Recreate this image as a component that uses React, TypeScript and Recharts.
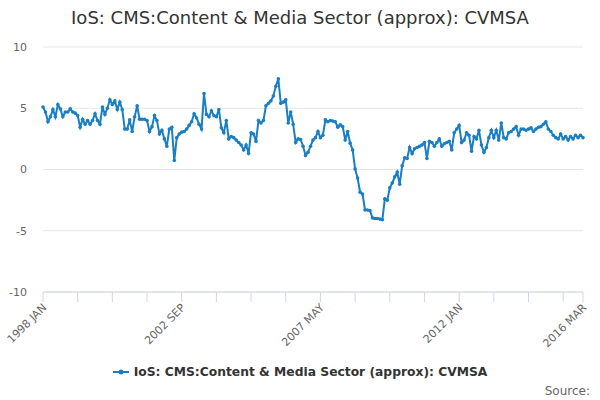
import { LineChart, Line, XAxis, YAxis, CartesianGrid } from 'recharts';

const MONTHS = ['JAN', 'FEB', 'MAR', 'APR', 'MAY', 'JUN', 'JUL', 'AUG', 'SEP', 'OCT', 'NOV', 'DEC'];
const START_YEAR = 1998;

// monthly values, %
const v1998 = [5.1, 4.7, 3.9, 4.3, 4.9, 4.3, 5.3, 4.95, 4.3, 4.7, 4.7, 4.95];
const v1999 = [4.7, 4.6, 4.4, 3.45, 4.1, 3.7, 4.0, 3.7, 4.0, 4.55, 4.0, 3.7];
const v2000 = [5.1, 4.5, 5.0, 5.7, 5.3, 5.6, 4.9, 5.5, 4.9, 3.3, 3.3, 4.05];
const v2001 = [3.1, 4.3, 5.2, 4.1, 4.1, 4.1, 4.0, 3.1, 3.5, 4.4, 4.0, 2.9];
const v2002 = [3.2, 2.5, 1.9, 3.3, 3.45, 0.73, 2.6, 2.9, 3.05, 3.1, 3.3, 3.6];
const v2003 = [3.9, 4.55, 4.2, 3.7, 3.3, 6.2, 4.5, 4.3, 4.8, 4.4, 4.3, 4.9];
const v2004 = [3.4, 3.0, 4.0, 2.5, 2.7, 2.6, 2.4, 2.2, 2.0, 1.6, 2.0, 1.3];
const v2005 = [3.0, 2.9, 2.3, 4.0, 3.8, 4.0, 5.2, 5.4, 5.6, 6.0, 6.8, 7.4];
const v2006 = [5.4, 5.5, 5.7, 3.8, 4.7, 3.7, 2.2, 2.5, 2.45, 1.9, 1.15, 1.4];
const v2007 = [1.9, 2.4, 2.6, 3.1, 2.6, 2.8, 4.05, 3.9, 4.0, 3.95, 3.9, 3.45];
const v2008 = [3.65, 3.5, 2.4, 3.1, 2.15, 1.6, 0.05, -0.7, -1.85, -2.0, -3.3, -3.3];
const v2009 = [-3.35, -3.95, -4.0, -4.0, -4.05, -4.1, -2.4, -2.5, -1.5, -1.1, -0.6, -0.2];
const v2010 = [-1.2, 0.3, 0.95, 0.9, 1.8, 1.3, 1.7, 1.8, 1.9, 2.0, 2.2, 0.9];
const v2011 = [2.3, 2.2, 1.9, 2.2, 2.5, 1.9, 2.1, 2.2, 2.3, 1.6, 3.0, 3.3];
const v2012 = [3.6, 2.2, 2.4, 3.0, 2.8, 1.5, 2.7, 2.5, 3.2, 2.0, 1.4, 1.8];
const v2013 = [2.6, 3.2, 2.6, 3.2, 2.4, 3.8, 2.6, 2.5, 3.0, 3.1, 3.3, 3.5];
const v2014 = [2.8, 3.3, 3.3, 3.2, 3.3, 3.4, 3.1, 3.3, 3.45, 3.5, 3.7, 3.9];
const v2015 = [3.3, 3.1, 2.8, 2.6, 2.5, 2.9, 2.5, 2.7, 2.4, 2.7, 2.5, 2.8];
const v2016 = [2.6, 2.8, 2.6];

const VALUES = [
  ...v1998, ...v1999, ...v2000, ...v2001, ...v2002, ...v2003, ...v2004, ...v2005, ...v2006,
  ...v2007, ...v2008, ...v2009, ...v2010, ...v2011, ...v2012, ...v2013, ...v2014, ...v2015, ...v2016,
];

const X_TICKS = [0, 14, 28, 42, 56, 70, 84, 98, 112, 126, 140, 154, 168, 182, 196, 210, 218];
const X_LABELS = [0, 56, 112, 168, 218];
const Y_TICKS = [-10, -5, 0, 5, 10];

const SERIES = 'IoS: CMS:Content & Media Sector (approx): CVMSA';
const BLUE = '#1a7ec3';
const FONT = '"DejaVu Sans", Verdana, sans-serif';

const monthLabel = (i: number) => `${START_YEAR + Math.floor(i / 12)} ${MONTHS[i % 12]}`;

const data = VALUES.map((v, i) => ({ i, month: monthLabel(i), value: v }));

const XTick = ({ x, y, payload }: { x?: number; y?: number; payload?: { value: number } }) => {
  if (!payload || !X_LABELS.includes(payload.value)) return null;
  return (
    <g transform={`translate(${x},${y})`}>
      <text x={0} y={0} dy={6} textAnchor="end" transform="rotate(-45)" fill="#666" fontSize={11} fontFamily={FONT}>
        {monthLabel(payload.value)}
      </text>
    </g>
  );
};

export default function App() {
  return (
    <div style={{ position: 'absolute', left: 0, top: 0, width: 600, height: 400, background: '#fff', fontFamily: FONT }}>
      <div style={{ position: 'absolute', top: 7, width: 600, textAlign: 'center', fontSize: 18, color: '#333' }}>
        {SERIES}
      </div>
      <LineChart width={600} height={400} data={data} margin={{ top: 47, right: 17, left: 0, bottom: 0 }}>
        <CartesianGrid vertical={false} stroke="#e6e6e6" />
        <XAxis
          type="number"
          dataKey="i"
          domain={[0, 218]}
          ticks={X_TICKS}
          interval={0}
          height={108}
          stroke="#ccd6eb"
          tickSize={10}
          tick={<XTick />}
        />
        <YAxis
          domain={[-10, 10]}
          ticks={Y_TICKS}
          width={43}
          axisLine={false}
          tickLine={false}
          tickMargin={10}
          tick={{ fill: '#666', fontSize: 11, fontFamily: FONT }}
        />
        <Line
          type="linear"
          dataKey="value"
          stroke={BLUE}
          strokeWidth={2}
          dot={{ r: 1.8, fill: BLUE, stroke: BLUE, strokeWidth: 0 }}
          isAnimationActive={false}
        />
      </LineChart>
      <div style={{ position: 'absolute', top: 365, width: 600, display: 'flex', justifyContent: 'center', alignItems: 'center' }}>
        <svg width={16} height={10} style={{ marginRight: 5 }}>
          <line x1={0} y1={5} x2={16} y2={5} stroke={BLUE} strokeWidth={2} />
          <circle cx={8} cy={5} r={2.5} fill={BLUE} />
        </svg>
        <span style={{ fontSize: 12.3, fontWeight: 'bold', color: '#333' }}>{SERIES}</span>
      </div>
      <div style={{ position: 'absolute', top: 384, right: 10, fontSize: 12, color: '#666' }}>Source:</div>
    </div>
  );
}
